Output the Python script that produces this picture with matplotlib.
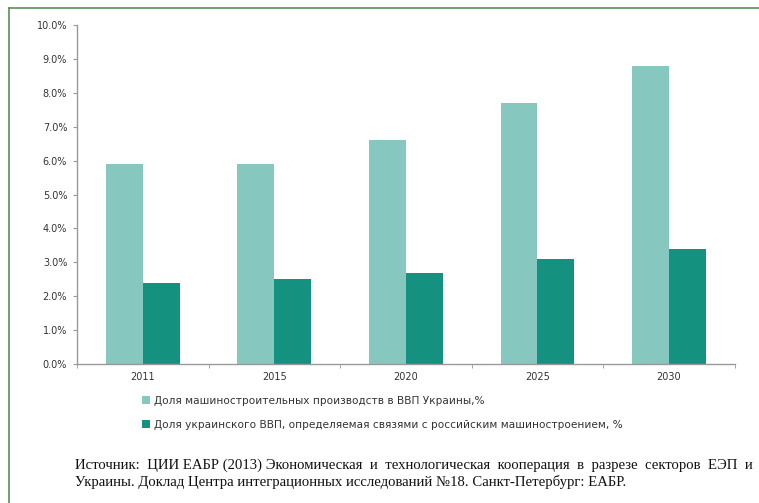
import matplotlib.pyplot as plt
import numpy as np
from matplotlib.lines import Line2D

years = ['2011', '2015', '2020', '2025', '2030']
share_machinery = [5.9, 5.9, 6.6, 7.7, 8.8]
share_russia = [2.4, 2.5, 2.7, 3.1, 3.4]
legend_labels = ['Доля машиностроительных производств в ВВП Украины,%',
                 'Доля украинского ВВП, определяемая связями с российским машиностроением, %']
source_line1 = 'Источник:  ЦИИ ЕАБР (2013) Экономическая  и  технологическая  кооперация  в  разрезе  секторов  ЕЭП  и'
source_line2 = 'Украины. Доклад Центра интеграционных исследований №18. Санкт-Петербург: ЕАБР.'

light = '#86c8bf'
dark = '#14917f'

fig = plt.figure(figsize=(7.59, 5.03), dpi=100)
ax = fig.add_axes([0.1014, 0.2763, 0.8666, 0.6737])

x = np.arange(len(years))
w = 0.28
ax.bar(x - w / 2, share_machinery, w, color=light, label=legend_labels[0])
ax.bar(x + w / 2, share_russia, w, color=dark, label=legend_labels[1])

ax.set_xlim(-0.5, len(years) - 0.5)
ax.set_ylim(0, 10)
ax.set_yticks(np.arange(0, 10.1, 1))
ax.set_yticklabels(['%.1f%%' % v for v in np.arange(0, 10.1, 1)])
ax.set_xticks(x)
ax.set_xticklabels(years)
ax.set_xticks(np.arange(-0.5, len(years)), minor=True)
ax.tick_params(axis='x', which='major', length=0, labelsize=7, colors='#333333', pad=6)
ax.tick_params(axis='x', which='minor', length=3, color='#999999')
ax.tick_params(axis='y', length=3, color='#999999', labelsize=7, labelcolor='#333333', pad=4)
for s in ['top', 'right']:
    ax.spines[s].set_visible(False)
for s in ['left', 'bottom']:
    ax.spines[s].set_color('#999999')
    ax.spines[s].set_linewidth(1)

ax.legend(loc='upper left', bbox_to_anchor=(0.085, -0.065), frameon=False, fontsize=7.6,
          handlelength=0.7, handleheight=0.7, handletextpad=0.4, labelspacing=1.35,
          labelcolor='#333333')

fig.text(0.099, 1 - 465 / 503, source_line1, fontsize=10.6, family='Liberation Serif',
         color='#111111', va='center')
fig.text(0.099, 1 - 482 / 503, source_line2, fontsize=10.6, family='Liberation Serif',
         color='#111111', va='center')

# green frame around the chart
fc = '#5a8f5a'
fig.add_artist(Line2D([0.012, 1.0], [0.984, 0.984], color=fc, lw=1.2, transform=fig.transFigure))
fig.add_artist(Line2D([0.012, 0.012], [0.984, 0.0], color=fc, lw=1.2, transform=fig.transFigure))

fig.savefig('out.png', dpi=100)
